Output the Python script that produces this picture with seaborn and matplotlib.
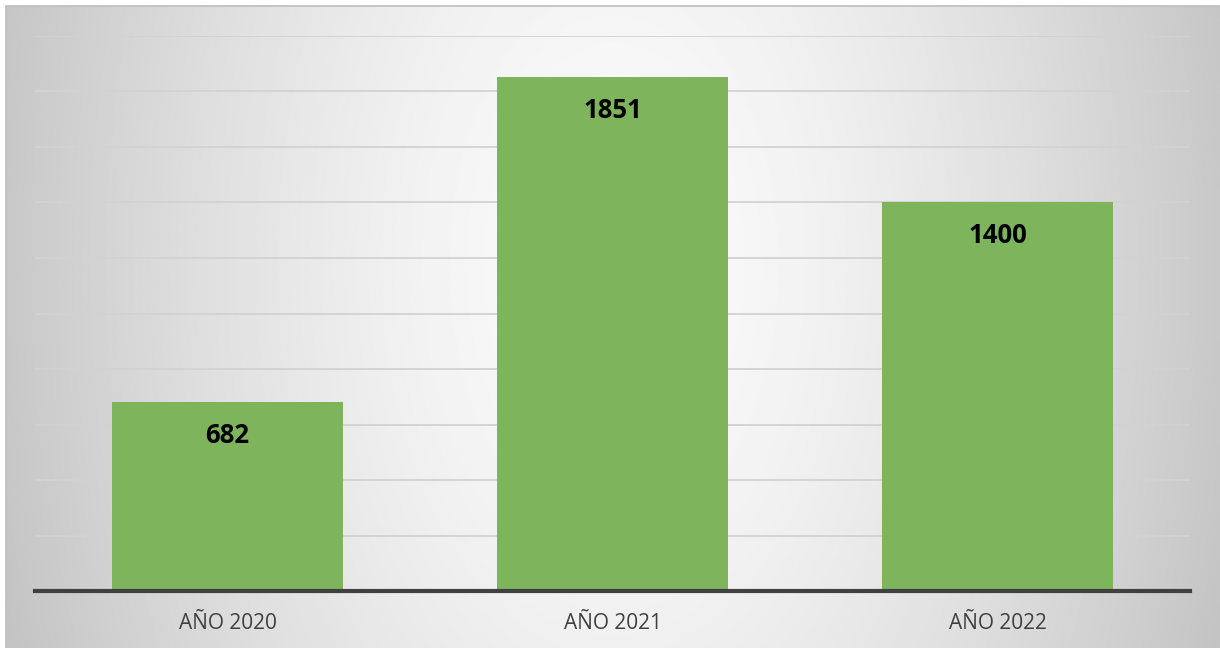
import numpy as np
import pandas as pd
import matplotlib
matplotlib.use("Agg")
import matplotlib.pyplot as plt
import seaborn as sns
from matplotlib.patches import Rectangle

categories = ["AÑO 2020", "AÑO 2021", "AÑO 2022"]
values = [682, 1851, 1400]

sns.set_theme(style="white")
plt.rcParams['font.family'] = ['Open Sans', 'DejaVu Sans']

W, H = 1220, 648
fig = plt.figure(figsize=(W / 100, H / 100), dpi=100)

# background radial gradient
bg = fig.add_axes([6 / W, 0, 1 - 6 / W, 1 - 6 / H], zorder=0)
ny, nx = 300, 600
yy, xx = np.mgrid[0:ny, 0:nx]
cx, cy = nx * 0.5, ny * 0.4
r = np.sqrt(((xx - cx) / (nx * 0.5)) ** 2 + ((yy - cy) / (ny * 1.6)) ** 2)
r = np.clip(r, 0, 1.2)
vals = 0.985 - 0.2 * r ** 1.5
bg.imshow(vals, cmap="gray", vmin=0, vmax=1, aspect="auto", interpolation="bilinear")
bg.axis("off")

fig.patches.append(Rectangle((5.5 / W, -0.01), 1.0, 1 - 5.5 / H + 0.01, transform=fig.transFigure,
                             fill=False, edgecolor="#bdbdbd", linewidth=1.2, zorder=1))

ax = fig.add_axes([35 / W, 57 / H, (1190 - 35) / W, (591 - 36) / H], zorder=2)
ax.patch.set_alpha(0)

df = pd.DataFrame({"cat": categories, "val": values})
sns.barplot(data=df, x="cat", y="val", color="#7db45c", saturation=1, width=0.6,
            linewidth=0, edgecolor="none", ax=ax, zorder=3)

ax.set_ylim(0, 2000)
for gy in range(200, 2001, 200):
    ax.axhline(gy, color="#d2d2d2", linewidth=1.3, zorder=1)

for i, v in enumerate(values):
    ax.annotate(str(v), xy=(i, v), xytext=(0, -24), textcoords="offset points",
                ha="center", va="center", fontsize=18.5, fontweight="bold", color="black", zorder=4)

for s in ["top", "left", "right"]:
    ax.spines[s].set_visible(False)
ax.spines["bottom"].set_color("#404040")
ax.spines["bottom"].set_linewidth(3)
ax.spines["bottom"].set_zorder(5)
ax.set_yticks([])
ax.set_xlabel("")
ax.set_ylabel("")
ax.tick_params(axis="x", length=0, labelsize=15, colors="#404040", pad=16)

fig.savefig("out.png", dpi=100)
